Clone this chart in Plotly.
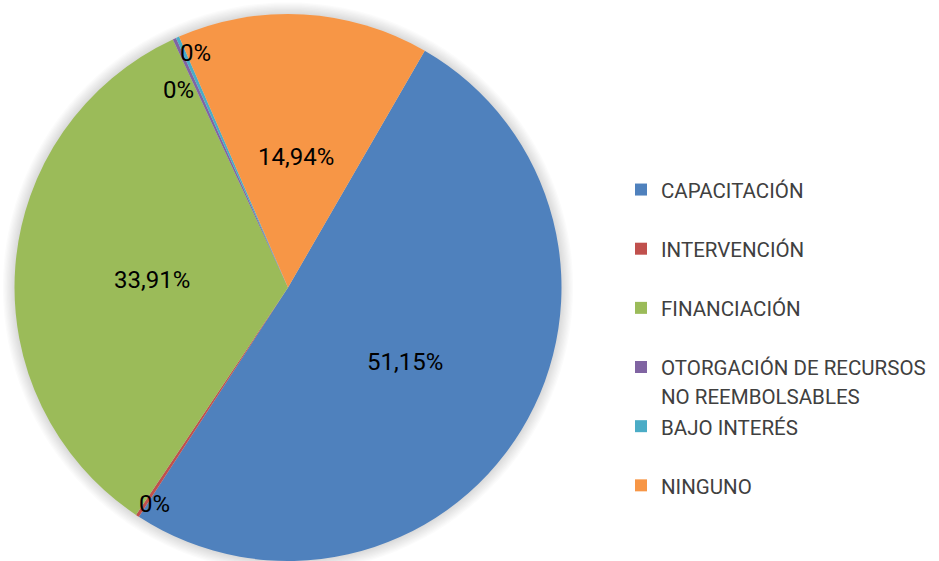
import math
import plotly.graph_objects as go

# ---------------- data ----------------
categories = ["CAPACITACIÓN", "INTERVENCIÓN", "FINANCIACIÓN",
              "OTORGACIÓN DE RECURSOS<br>NO REEMBOLSABLES", "BAJO INTERÉS", "NINGUNO"]
values = [51.15, 0.2, 33.91, 0.2, 0.2, 14.94]
value_labels = ["51,15%", "0%", "33,91%", "0%", "0%", "14,94%"]

# ---------------- style ----------------
colors = ["#4F81BD", "#C0504D", "#9BBB59", "#8064A2", "#4BACC6", "#F79646"]
label_radius = [0.5, 0.92, 0.5, 0.835, 0.93, 0.49]     # fraction of radius
label_shift = [0.0, -1.3, 0.0, -4.2, 2.6, 0.0]        # degrees from slice middle

W, H = 939, 561
MT, MB = 14, 0
PH = H - MT - MB
R = PH / 2.0
CX = 288.0
CY = MT + R
ROT = 30

# legend labels: every entry occupies two lines
legend_labels = []
for c in categories:
    parts = c.split("<br>")
    if len(parts) == 1:
        parts.append(" ")
    legend_labels.append("<br>".join('<span style="font-size:20.5px">%s</span>' % p for p in parts))

fig = go.Figure()
fig.add_trace(go.Pie(
    labels=legend_labels,
    values=values,
    sort=False,
    direction="clockwise",
    rotation=ROT,
    marker=dict(colors=colors, line=dict(width=0)),
    textinfo="none",
    hoverinfo="label+value",
    domain=dict(x=[0, 2 * CX / W], y=[0, 1]),
))

# data labels
total = float(sum(values))
cum = ROT
annotations = []
for v, lab, rf, sh in zip(values, value_labels, label_radius, label_shift):
    span = v / total * 360.0
    mid = cum + span / 2.0 + sh
    cum += span
    px = CX + rf * R * math.sin(math.radians(mid))
    py = CY - rf * R * math.cos(math.radians(mid))
    annotations.append(dict(
        x=px / W, y=(H - MB - py) / PH, xref="paper", yref="paper",
        text=lab, showarrow=False, xanchor="center", yanchor="middle",
        yshift=-3,
        font=dict(family="Roboto", size=24, color="#000000"),
    ))

# soft glow around the pie
shapes = []
for k in range(1, 10):
    rk = R + 1.3 * k
    shapes.append(dict(
        type="circle", xref="paper", yref="paper", layer="below",
        x0=(CX - rk) / W, x1=(CX + rk) / W,
        y0=(H - MB - (CY + rk)) / PH, y1=(H - MB - (CY - rk)) / PH,
        fillcolor="rgba(0,0,0,0.016)", line=dict(width=0),
    ))

fig.update_layout(
    width=W, height=H,
    margin=dict(l=0, r=0, t=MT, b=MB),
    paper_bgcolor="white", plot_bgcolor="white",
    showlegend=True,
    legend=dict(
        x=621 / W, y=(H - MB - 169) / PH, xanchor="left", yanchor="top",
        valign="top",
        font=dict(family="Roboto", size=21.6, color="#404040"),
        bgcolor="rgba(0,0,0,0)",
    ),
    annotations=annotations,
    shapes=shapes,
)

fig.write_html("out.html",
               config={"displayModeBar": False},
               post_script="document.body.style.margin='0px';document.body.style.overflow='hidden';")
